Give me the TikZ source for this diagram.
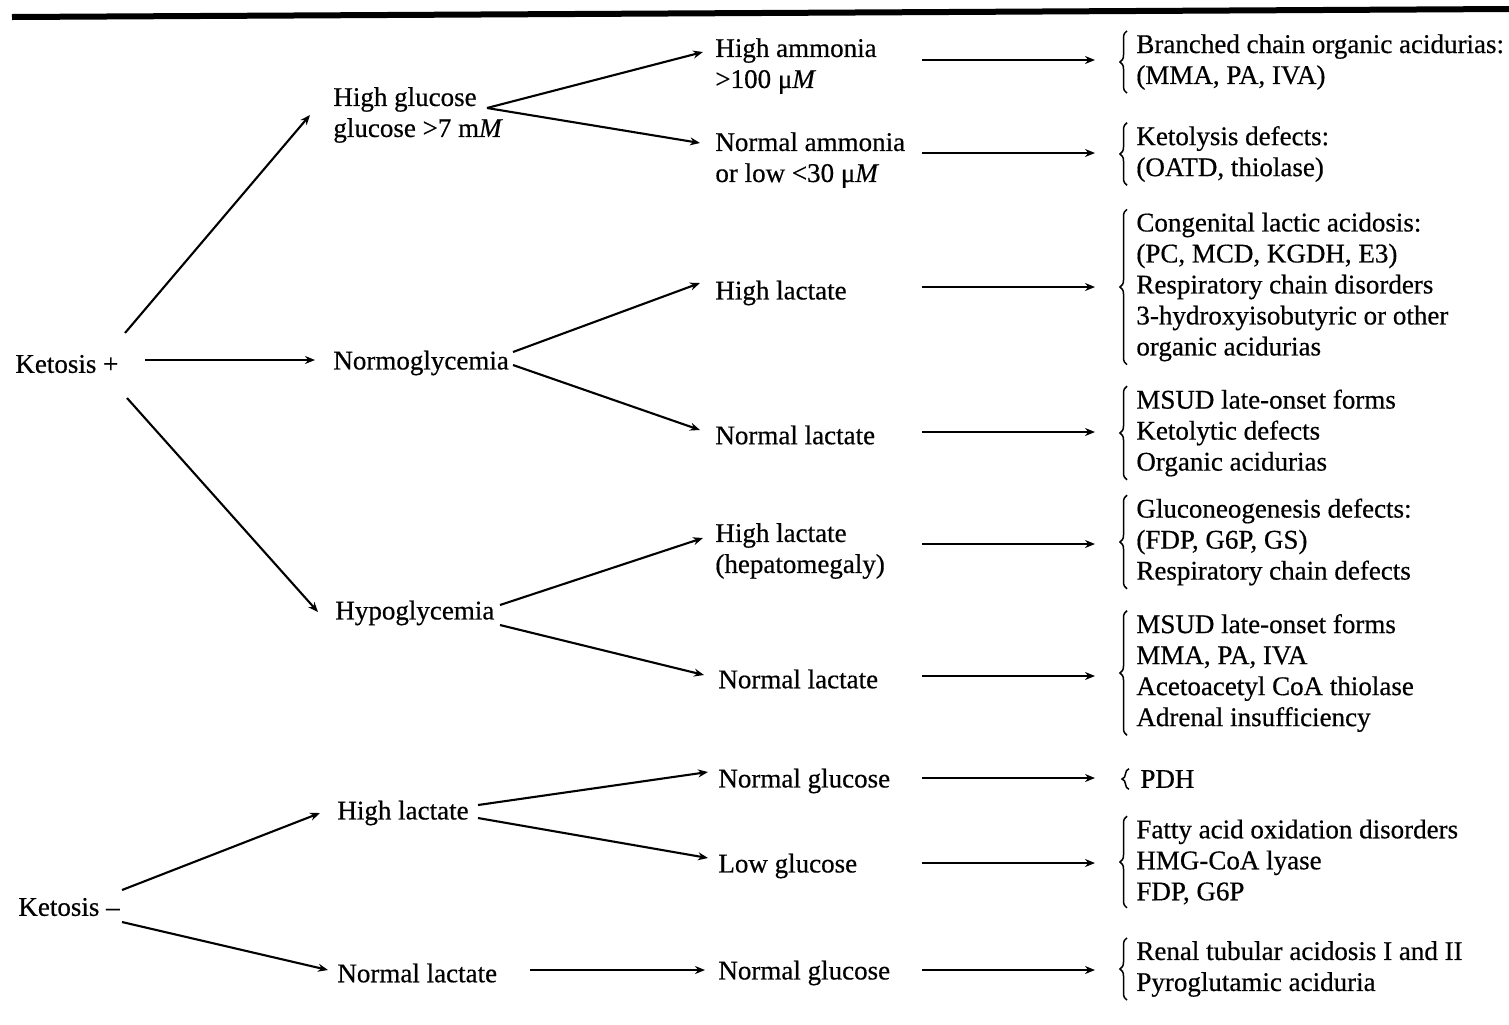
\documentclass[tikz,border=0pt]{standalone}
\usepackage{fontspec}
\setmainfont{Liberation Serif}[FakeBold=0.5]
\usetikzlibrary{arrows.meta,calc,decorations.pathreplacing}
\begin{document}
\begin{tikzpicture}[x=0.5pt,y=-0.5pt,
  lbl/.style={font=\fontsize{13.5}{15.5}\selectfont, inner sep=0pt, anchor=west, align=left, yshift=-1.5pt},
  arr/.style={line width=1.05pt, -{Stealth[length=5pt,width=4pt]}},
  harr/.style={line width=0.9pt, -{Stealth[length=5pt,width=4pt]}},
  brc/.style={line width=0.75pt, decorate, decoration={brace, amplitude=3.5pt}}]
\useasboundingbox (0,0) rectangle (1509,1024);
\draw[line width=3pt] (12,17) -- (1509,9);
% column 1
\node[lbl] (kp) at (15,361) {Ketosis +};
\node[lbl] (km) at (18,904) {Ketosis –};
% column 2
\node[lbl] (hg) at (333,112) {High glucose\\glucose >7 m\textit{M}};
\node[lbl] (ng) at (333,360) {Normoglycemia};
\node[lbl] (hy) at (335,610) {Hypoglycemia};
\node[lbl] (hl2) at (337,810) {High lactate};
\node[lbl] (nl2) at (337,970) {Normal lactate};
% column 3
\node[lbl] (ha) at (715,63) {High ammonia\\>100 μ\textit{M}};
\node[lbl] (na) at (715,157) {Normal ammonia\\or low <30 μ\textit{M}};
\node[lbl] (hl) at (715,290) {High lactate};
\node[lbl] (nl) at (715,432) {Normal lactate};
\node[lbl] (hlh) at (715,548) {High lactate\\(hepatomegaly)};
\node[lbl] (nlh) at (718,676) {Normal lactate};
\node[lbl] (ngl) at (718,778) {Normal glucose};
\node[lbl] (lg) at (718,863) {Low glucose};
\node[lbl] (ngl2) at (718,970) {Normal glucose};
% results
\node[lbl] (r1) at (1136,59) {Branched chain organic acidurias:\\(MMA, PA, IVA)};
\node[lbl] (r2) at (1136,151) {Ketolysis defects:\\(OATD, thiolase)};
\node[lbl] (r3) at (1136,284) {Congenital lactic acidosis:\\(PC, MCD, KGDH, E3)\\Respiratory chain disorders\\3-hydroxyisobutyric or other\\organic acidurias};
\node[lbl] (r4) at (1136,430) {MSUD late-onset forms\\Ketolytic defects\\Organic acidurias};
\node[lbl] (r5) at (1136,539) {Gluconeogenesis defects:\\(FDP, G6P, GS)\\Respiratory chain defects};
\node[lbl] (r6) at (1136,670) {MSUD late-onset forms\\MMA, PA, IVA\\Acetoacetyl CoA thiolase\\Adrenal insufficiency};
\node[lbl] (r7) at (1140,776) {PDH};
\node[lbl] (r8) at (1136,859) {Fatty acid oxidation disorders\\HMG-CoA lyase\\FDP, G6P};
\node[lbl] (r9) at (1136,966) {Renal tubular acidosis I and II\\Pyroglutamic aciduria};
% braces
\foreach \r in {r1,r2,r3,r4,r5,r6,r8,r9}
  \draw[brc] ($(\r.south west)+(-9,3)$) -- ($(\r.north west)+(-9,-3)$);
\draw[brc] ($(r7.south west)+(-11,1)$) -- ($(r7.north west)+(-11,-1)$);
% diagonal arrows
\draw[arr] ($(kp.west)+(110,-31)$) -- ($(hg.west)+(-23,0)$);
\draw[arr] ($(kp.west)+(130,-4)$) -- ($(ng.west)+(-18,-3)$);
\draw[arr] ($(kp.west)+(112,34)$) -- ($(hy.west)+(-17,-1)$);
\draw[arr] ($(hg.west)+(154,-7)$) -- ($(ha.west)+(-12,-14)$);
\draw[arr] ($(hg.west)+(154,-7)$) -- ($(na.west)+(-15,-17)$);
\draw[arr] ($(ng.west)+(180,-11)$) -- ($(hl.west)+(-15,-10)$);
\draw[arr] ($(ng.west)+(180,2)$) -- ($(nl.west)+(-15,-5)$);
\draw[arr] ($(hy.west)+(165,-8)$) -- ($(hlh.west)+(-12,-13)$);
\draw[arr] ($(hy.west)+(165,12)$) -- ($(nlh.west)+(-14,-4)$);
\draw[arr] ($(hl2.west)+(141,-8)$) -- ($(ngl.west)+(-10,-9)$);
\draw[arr] ($(hl2.west)+(141,5)$) -- ($(lg.west)+(-10,-8)$);
\draw[arr] ($(km.west)+(104,-17)$) -- ($(hl2.west)+(-17,0)$);
\draw[arr] ($(km.west)+(104,15)$) -- ($(nl2.west)+(-9,-3)$);
\draw[harr] ($(nl2.west)+(193,-3)$) -- ($(ngl2.west)+(-13,-3)$);
% horizontal arrows to results
\draw[harr] ($(ha.west)+(207,-6)$) -- ($(r1.west)+(-41,-2)$);
\draw[harr] ($(na.west)+(207,-7)$) -- ($(r2.west)+(-41,-1)$);
\draw[harr] ($(hl.west)+(207,-6)$) -- ($(r3.west)+(-41,0)$);
\draw[harr] ($(nl.west)+(207,-3)$) -- ($(r4.west)+(-41,-1)$);
\draw[harr] ($(hlh.west)+(207,-7)$) -- ($(r5.west)+(-41,2)$);
\draw[harr] ($(nlh.west)+(204,-3)$) -- ($(r6.west)+(-41,3)$);
\draw[harr] ($(ngl.west)+(204,-3)$) -- ($(r7.west)+(-45,-1)$);
\draw[harr] ($(lg.west)+(204,-3)$) -- ($(r8.west)+(-41,1)$);
\draw[harr] ($(ngl2.west)+(204,-3)$) -- ($(r9.west)+(-41,1)$);
\end{tikzpicture}
\end{document}
